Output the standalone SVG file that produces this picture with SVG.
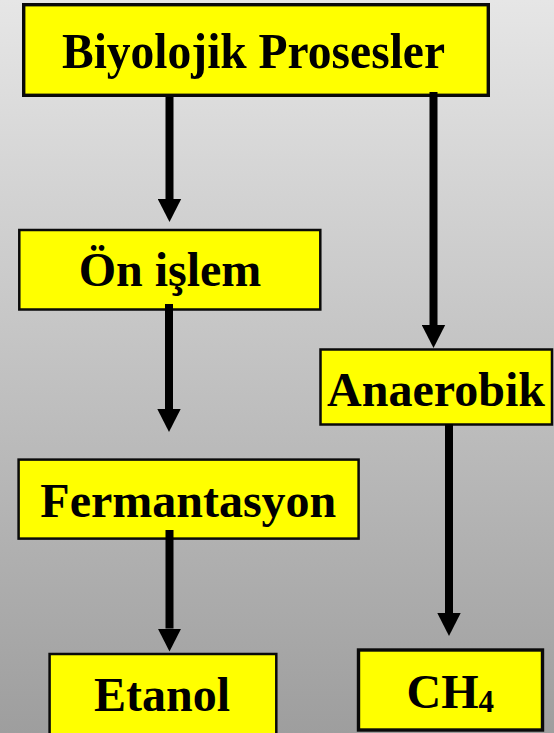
<svg xmlns="http://www.w3.org/2000/svg" width="554" height="733" viewBox="0 0 554 733">
  <defs>
    <linearGradient id="bg" x1="0" y1="0" x2="0" y2="1">
      <stop offset="0" stop-color="#e6e6e6"/>
      <stop offset="1" stop-color="#9e9e9e"/>
    </linearGradient>
    <marker id="head" markerUnits="userSpaceOnUse" markerWidth="24" markerHeight="24" viewBox="0 0 24 24" refX="0" refY="12" orient="auto">
      <path d="M0,0.3 L23,12 L0,23.7 Z" fill="#000"/>
    </marker>
    <style>
      .box { fill: #ffff00; stroke: #0a0a0a; stroke-width: 2.5; }
      .thick { stroke-width: 3.4; }
      .lbl { font-family: "Liberation Serif", "Times New Roman", serif; font-weight: bold; font-size: 48px; fill: #000; }
      .big { font-size: 50px; }
      .sub { font-size: 31px; }
      .arrow { stroke: #000; stroke-width: 8; fill: none; marker-end: url(#head); }
    </style>
  </defs>

  <!-- background -->
  <rect x="0" y="0" width="554" height="733" fill="url(#bg)"/>

  <!-- nodes -->
  <g id="biyolojik-prosesler">
    <rect class="box thick" x="23.7" y="4.7" width="464.6" height="90.6"/>
    <text class="lbl big" x="253.5" y="68.3" text-anchor="middle" textLength="383" lengthAdjust="spacingAndGlyphs">Biyolojik Prosesler</text>
  </g>
  <g id="on-islem">
    <rect class="box" x="19.3" y="230" width="301" height="79.5"/>
    <text class="lbl" x="170" y="286" text-anchor="middle">Ön işlem</text>
  </g>
  <g id="anaerobik">
    <rect class="box" x="320.5" y="349.5" width="231.5" height="75"/>
    <text class="lbl" x="436" y="406" text-anchor="middle">Anaerobik</text>
  </g>
  <g id="fermantasyon">
    <rect class="box" x="18.6" y="459.6" width="340" height="79"/>
    <text class="lbl" x="188.3" y="516.7" text-anchor="middle">Fermantasyon</text>
  </g>
  <g id="etanol">
    <rect class="box" x="49.6" y="654" width="226.7" height="90"/>
    <text class="lbl" x="162" y="711" text-anchor="middle">Etanol</text>
  </g>
  <g id="ch4">
    <rect class="box thick" x="358.5" y="650" width="184" height="80"/>
    <text class="lbl" x="406.5" y="708.3">CH<tspan class="sub" dy="3.5">4</tspan></text>
  </g>

  <!-- connectors -->
  <g id="connectors">
    <line class="arrow" x1="169.5" y1="97" x2="169.5" y2="199"/>
    <line class="arrow" x1="433.5" y1="92" x2="433.5" y2="325"/>
    <line class="arrow" x1="169" y1="304" x2="169" y2="409"/>
    <line class="arrow" x1="449" y1="424" x2="449" y2="613"/>
    <line class="arrow" x1="169.5" y1="530" x2="169.5" y2="628.5"/>
  </g>
</svg>
